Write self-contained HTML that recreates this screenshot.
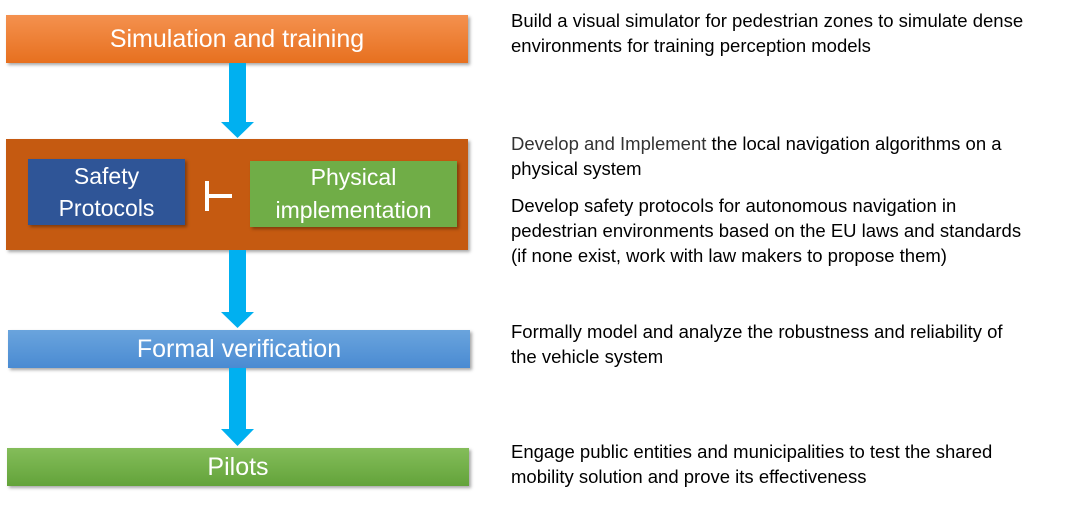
<!DOCTYPE html>
<html><head><style>
body{margin:0;width:1074px;height:509px;background:#fff;position:relative;overflow:hidden;font-family:"Liberation Sans",sans-serif}
.b{position:absolute;color:#fff;display:flex;align-items:center;justify-content:center;text-align:center;box-shadow:2px 2px 3px rgba(0,0,0,.35)}
.t{position:absolute;left:511px;font-size:18.5px;line-height:25px;color:#000;white-space:nowrap}
.l{color:#333;font-weight:300}
</style></head><body>
<div class="b" style="left:6px;top:15px;width:462px;height:48px;background:linear-gradient(#f4914f,#e7701f);font-size:25px">Simulation and training</div>
<div class="b" style="left:6px;top:139px;width:462px;height:111px;background:#c55a11"></div>
<div class="b" style="left:28px;top:159px;width:157px;height:66px;background:#2f5597;font-size:23px;line-height:32px">Safety<br>Protocols</div>
<div class="b" style="left:250px;top:161px;width:207px;height:66px;background:#70ad47;font-size:23px;line-height:33px">Physical<br>implementation</div>
<div style="position:absolute;left:205px;top:181px;width:4px;height:30px;background:#fff"></div>
<div style="position:absolute;left:205px;top:194px;width:27px;height:4px;background:#fff"></div>
<div class="b" style="left:8px;top:330px;width:462px;height:38px;background:linear-gradient(#6aa4dd,#4a8bd2);font-size:25px">Formal verification</div>
<div class="b" style="left:7px;top:448px;width:462px;height:38px;background:linear-gradient(#84bd5a,#63a33a);font-size:25px">Pilots</div>
<svg style="position:absolute;left:0;top:0" width="1074" height="509">
<g fill="#00b0f0">
<polygon points="229,63 246,63 246,122 254,122 237.5,138 221,122 229,122"/>
<polygon points="229,250 246,250 246,312 254,312 237.5,328 221,312 229,312"/>
<polygon points="229,368 246,368 246,429 254,429 237.5,446 221,429 229,429"/>
</g></svg>
<div class="t" style="top:8px">Build a visual simulator for pedestrian zones to simulate dense<br>environments for training perception models</div>
<div class="t" style="top:131px"><span class="l">Develop and Implement</span> the local navigation algorithms on a<br>physical system</div>
<div class="t" style="top:193px">Develop safety protocols for autonomous navigation in<br>pedestrian environments based on the EU laws and standards<br>(if none exist, work with law makers to propose them)</div>
<div class="t" style="top:319px">Formally model and analyze the robustness and reliability of<br>the vehicle system</div>
<div class="t" style="top:439px">Engage public entities and municipalities to test the shared<br>mobility solution and prove its effectiveness</div>
</body></html>
